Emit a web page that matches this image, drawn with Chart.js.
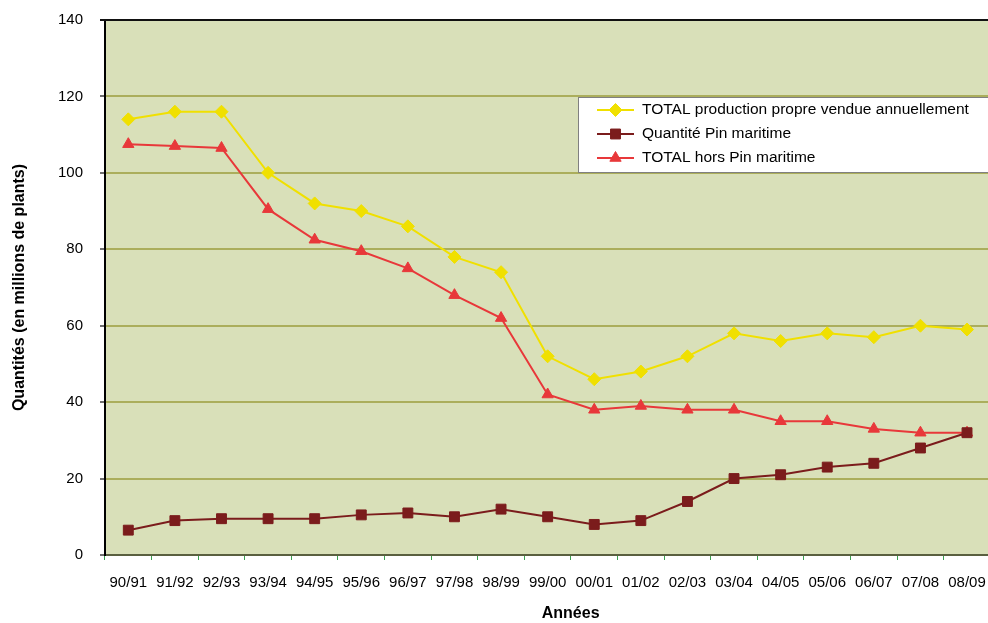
<!DOCTYPE html>
<html>
<head>
<meta charset="utf-8">
<script src="https://cdn.jsdelivr.net/npm/chart.js@4/dist/chart.umd.min.js"></script>
<style>
  html, body { margin: 0; padding: 0; background: #ffffff; overflow: hidden; }
  #wrap { position: relative; width: 1000px; height: 629px; margin-top: -6px; }
</style>
</head>
<body>
<div id="wrap"><canvas id="c" width="1000" height="629"></canvas></div>
<script>
const categories = ["90/91","91/92","92/93","93/94","94/95","95/96","96/97","97/98","98/99","99/00","00/01","01/02","02/03","03/04","04/05","05/06","06/07","07/08","08/09"];
const totalProduction = [114, 116, 116, 100, 92, 90, 86, 78, 74, 52, 46, 48, 52, 58, 56, 58, 57, 60, 59];
const pinMaritime = [6.5, 9, 9.5, 9.5, 9.5, 10.5, 11, 10, 12, 10, 8, 9, 14, 20, 21, 23, 24, 28, 32];
const horsPin = [107.5, 107, 106.5, 90.5, 82.5, 79.5, 75, 68, 62, 42, 38, 39, 38, 38, 35, 35, 33, 32, 32];
const yTicks = [0, 20, 40, 60, 80, 100, 120, 140];
const seriesLabels = ["TOTAL production propre vendue annuellement", "Quantité Pin maritime", "TOTAL hors Pin maritime"];
const xTitle = "Années";
const yTitle = "Quantités (en millions de plants)";

const FONT = "'Liberation Sans', Arial, Helvetica, sans-serif";
const colors = ["#f0e000", "#7b1c1c", "#e8383a"];
const styles = ["rectRot", "rect", "triangle"];
const radii = [6.5, 7, 6.5];

const bgPlugin = {
  id: 'plotBg',
  beforeDraw(chart) {
    const { ctx, chartArea: a } = chart;
    ctx.save();
    ctx.fillStyle = '#d9e0b9';
    ctx.fillRect(a.left, a.top, a.right - a.left, a.bottom - a.top);
    ctx.restore();
  },
  afterDraw(chart) {
    const { ctx, chartArea: a } = chart;
    ctx.save();
    ctx.strokeStyle = '#111';
    ctx.lineWidth = 2;
    ctx.beginPath();
    ctx.moveTo(a.left - 5, a.top);
    ctx.lineTo(a.right, a.top);
    ctx.stroke();
    ctx.fillStyle = '#000';
    ctx.font = "bold 16px " + FONT;
    ctx.textAlign = 'center';
    ctx.textBaseline = 'middle';
    ctx.fillText(xTitle, (a.left + a.right) / 2 + 23, a.bottom + 59);
    const lx = 578, ly = a.top + 77, lw = 420, lh = 75;
    ctx.fillStyle = '#ffffff';
    ctx.fillRect(lx, ly, lw, lh);
    ctx.strokeStyle = '#808080';
    ctx.lineWidth = 1;
    ctx.strokeRect(lx + 0.5, ly + 0.5, lw, lh);
    chart.data.datasets.forEach((ds, i) => {
      const y = ly + 13 + i * 24;
      ctx.strokeStyle = ds.borderColor;
      ctx.lineWidth = 2;
      ctx.beginPath();
      ctx.moveTo(597, y);
      ctx.lineTo(634, y);
      ctx.stroke();
      ctx.fillStyle = ds.pointBackgroundColor;
      ctx.strokeStyle = ds.pointBorderColor;
      ctx.lineWidth = 1;
      Chart.helpers.drawPoint(ctx, { pointStyle: ds.pointStyle, radius: ds.pointRadius, borderWidth: 1, rotation: 0 }, 615.5, y);
      ctx.fillStyle = '#000';
      ctx.font = "15.5px " + FONT;
      ctx.textAlign = 'left';
      ctx.textBaseline = 'middle';
      ctx.fillText(ds.label, 642, y);
    });
    ctx.restore();
  }
};

const datasets = [totalProduction, pinMaritime, horsPin].map((d, i) => ({
  label: seriesLabels[i],
  data: d,
  borderColor: colors[i],
  backgroundColor: colors[i],
  borderWidth: 2,
  pointStyle: styles[i],
  pointRadius: radii[i],
  pointHoverRadius: radii[i],
  pointBackgroundColor: colors[i],
  pointBorderColor: colors[i],
  pointBorderWidth: 1,
  tension: 0,
  fill: false
}));
datasets[0].order = 3; datasets[2].order = 2; datasets[1].order = 1;

new Chart(document.getElementById('c'), {
  type: 'line',
  data: { labels: categories, datasets },
  options: {
    responsive: false,
    animation: false,
    devicePixelRatio: 1,
    layout: { padding: { left: 0, top: 15, right: 0, bottom: 0 } },
    plugins: { legend: { display: false }, tooltip: { enabled: false } },
    scales: {
      x: {
        offset: true,
        grid: { offset: true, drawOnChartArea: false, tickLength: 5, tickColor: '#3aa050', tickWidth: 1 },
        border: { color: '#5a6040', width: 2 },
        ticks: { color: '#000', font: { family: FONT, size: 15 }, padding: 14, maxRotation: 0, autoSkip: false },
        afterFit(s) { s.height = 68; }
      },
      y: {
        min: 0, max: 140,
        afterBuildTicks(s) { s.ticks = yTicks.map(v => ({ value: v })); },
        grid: { color: (c) => c.tick && c.tick.value === 140 ? 'rgba(0,0,0,0)' : '#abae5c', lineWidth: 2, tickLength: 5, tickColor: '#707070' },
        border: { color: '#000', width: 2 },
        ticks: { color: '#000', font: { family: FONT, size: 15 }, padding: 17 },
        title: { display: true, text: yTitle, color: '#000', font: { family: FONT, size: 16, weight: 'bold' }, padding: { top: 10, bottom: 0 } },
        afterFit(s) { s.width = 105; }
      }
    }
  },
  plugins: [bgPlugin]
});
</script>
</body>
</html>
